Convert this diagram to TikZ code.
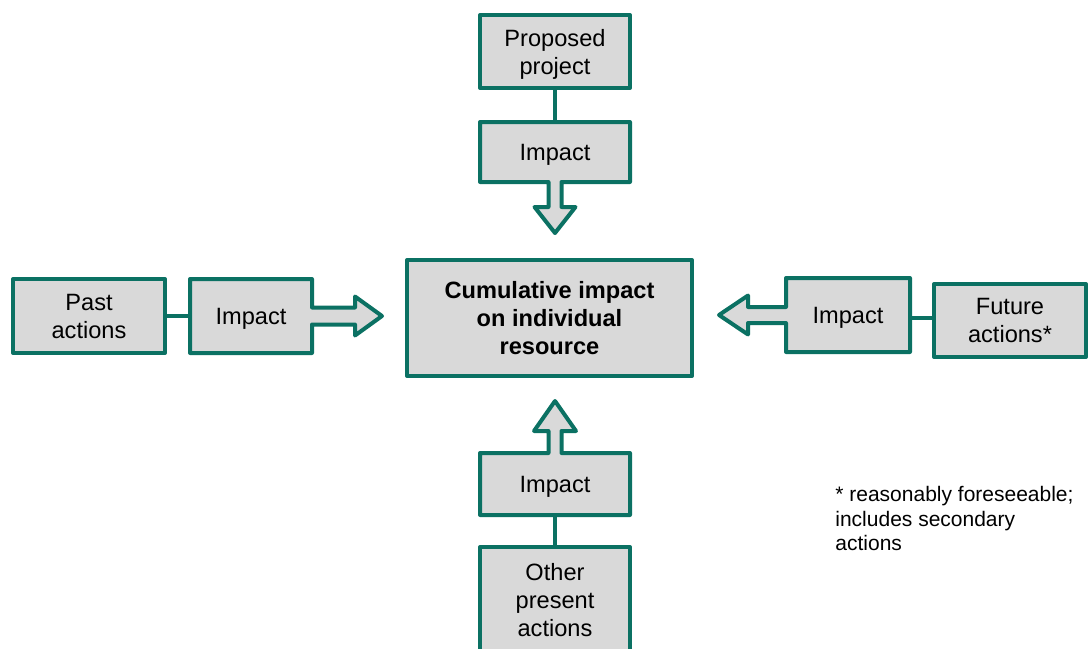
\documentclass[tikz,border=0pt]{standalone}
\usepackage{fontspec}
\setmainfont{Liberation Sans}
\usetikzlibrary{calc,backgrounds}

\definecolor{frame_teal}{HTML}{0B7163}
\definecolor{box_gray}{HTML}{D9D9D9}

\begin{document}
\begin{tikzpicture}[x=0.5pt, y=-0.5pt,
	box/.style={draw=frame_teal, line width=2pt, fill=box_gray, inner sep=0pt, outer sep=0pt,
		align=center, line join=round, text depth=0pt, font=\fontsize{11.8}{14}\selectfont},
	impact/.style={box, draw=none, fill=none},
	outline/.style={draw=frame_teal, fill=box_gray, line width=2pt, line join=round},
	link/.style={draw=frame_teal, line width=2pt}]
	\useasboundingbox (0,0) rectangle (1092,648);
	\clip (0,0) rectangle (1092,648);
	% centre box
	\node [box, minimum width=142.5pt, minimum height=58pt, font=\bfseries\fontsize{11.8}{14}\selectfont] (cumulative) at (549.5,318) {Cumulative impact\\on individual\\resource};
	% proposed project from above
	\node [box, minimum width=75pt, minimum height=36.5pt] (proposed) at (555,51.5) {Proposed\\project};
	\node [impact, minimum width=75pt, minimum height=30pt] (impN) at (555,152) {Impact};
	\begin{scope}[on background layer]
		\draw [outline] (impN.north west) -- (impN.north east) -- (impN.south east)
			-- ($(impN.south)+(6.5,0)$) -- ++(0,25) -- ++(14,0) -- ($(impN.south)+(0,51)$)
			-- ++(-20.5,-26) -- ++(14,0) -- ++(0,-25) -- (impN.south west) -- cycle;
	\end{scope}
	\draw [link] (proposed) -- (impN);
	% other present actions from below
	\node [box, minimum width=75pt, minimum height=53pt] (present) at (555,600) {Other\\present\\actions};
	\node [impact, minimum width=75pt, minimum height=31pt] (impS) at (555,484) {Impact};
	\begin{scope}[on background layer]
		\draw [outline] (impS.south west) -- (impS.north west)
			-- ($(impS.north)+(-6.5,0)$) -- ++(0,-22) -- ++(-14.5,0) -- ($(impS.north)+(0,-52)$)
			-- ++(21,30) -- ++(-14.5,0) -- ++(0,22) -- (impS.north east) -- (impS.south east) -- cycle;
	\end{scope}
	\draw [link] (present) -- (impS);
	% past actions from the left
	\node [box, minimum width=76pt, minimum height=37pt] (past) at (89,316) {Past\\actions};
	\node [impact, minimum width=61pt, minimum height=37pt] (impW) at (251,316) {Impact};
	\begin{scope}[on background layer]
		\draw [outline] (impW.south east) -- (impW.south west) -- (impW.north west) -- (impW.north east)
			-- ($(impW.east)+(0,-8.5)$) -- ++(43,0) -- ++(0,-11) -- ($(impW.east)+(70,0)$)
			-- ++(-27,19.5) -- ++(0,-11) -- ++(-43,0) -- cycle;
	\end{scope}
	\draw [link] (past) -- (impW);
	% future actions from the right
	\node [box, minimum width=76pt, minimum height=36.5pt] (future) at (1010,320.5) {Future\\actions*};
	\node [impact, minimum width=62pt, minimum height=37pt] (impE) at (848,315) {Impact};
	\begin{scope}[on background layer]
		\draw [outline] (impE.north west) -- (impE.north east) -- (impE.south east) -- (impE.south west)
			-- ($(impE.west)+(0,8)$) -- ++(-38,0) -- ++(0,11.5) -- ($(impE.west)+(-67,0)$)
			-- ++(29,-19.5) -- ++(0,11.5) -- ++(38,0) -- cycle;
	\end{scope}
	\draw [link] ($(impE.east)+(0,3)$) -- ($(future.west)+(0,-2.5)$);
	% footnote
	\node [anchor=north west, align=left, inner sep=0pt, font=\fontsize{10.5}{12.25}\selectfont] (note) at (835,486) {* reasonably foreseeable;\\includes secondary\\actions};
\end{tikzpicture}
\end{document}
